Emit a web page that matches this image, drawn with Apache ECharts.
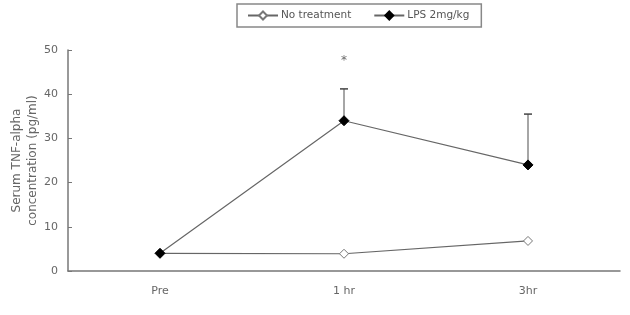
<!DOCTYPE html>
<html><head><meta charset="utf-8">
<script src="https://cdn.jsdelivr.net/npm/echarts@6/dist/echarts.min.js"></script>
<style>html,body{margin:0;padding:0;background:#fff}#c{width:630px;height:315px}</style>
</head><body><div id="c"></div>
<script>
var categories = ['Pre', '1 hr', '3hr'];
var noTreatment = [4, 3.9, 6.8];
var lps = [4, 34, 24];
var lpsErrTop = [null, 41.2, 35.5];
var starPos = [null, 47.5, null];
var yTicks = [0, 10, 20, 30, 40, 50];

var font = 'DejaVu Sans';
var chart = echarts.init(document.getElementById('c'));
chart.setOption({
  animation: false,
  backgroundColor: '#fff',
  grid: {left: 68, right: 10, top: 50, bottom: 44, containLabel: false, outerBoundsMode: 'none'},
  legend: {
    left: 237, top: 4, width: 245,
    padding: [6, 12, 6, 10],
    borderColor: '#888', borderWidth: 1.5,
    itemWidth: 30, itemHeight: 10, itemGap: 22,
    textStyle: {fontFamily: font, fontSize: 10.5, color: '#555', padding: [0, 0, 0, -2]},
    data: ['No treatment', 'LPS 2mg/kg']
  },
  xAxis: {
    type: 'category', data: categories, boundaryGap: true,
    axisLine: {lineStyle: {color: '#777', width: 1.5}},
    axisTick: {inside: true, length: 4, lineStyle: {color: '#777'}},
    axisLabel: {fontFamily: font, fontSize: 11, color: '#666', margin: 15}
  },
  yAxis: {
    type: 'value', min: 0, max: 50, interval: 10,
    name: 'Serum TNF-alpha\nconcentration (pg/ml)',
    nameLocation: 'middle', nameRotate: 90, nameGap: 27, nameMoveOverlap: false,
    nameTextStyle: {fontFamily: font, fontSize: 12, color: '#666', lineHeight: 16},
    splitLine: {show: false},
    axisLine: {show: true, lineStyle: {color: '#777', width: 1.5}},
    axisTick: {show: true, inside: true, length: 4, lineStyle: {color: '#777'}},
    axisLabel: {fontFamily: font, fontSize: 11, color: '#666', margin: 10,
      formatter: function (v) { return yTicks.indexOf(v) >= 0 ? String(v) : ''; }}
  },
  series: [
    {
      name: 'errbars', type: 'custom', z: 1,
      data: lpsErrTop.map(function (v, i) { return v == null ? null : [i, lps[i], v]; }).filter(function (d) { return d; }),
      renderItem: function (params, api) {
        var x = api.value(0);
        var lo = api.coord([x, api.value(1)]);
        var hi = api.coord([x, api.value(2)]);
        var w = 4;
        return {type: 'group', children: [
          {type: 'line', shape: {x1: lo[0], y1: lo[1], x2: hi[0], y2: hi[1]}, style: {stroke: '#888', lineWidth: 1.5}},
          {type: 'line', shape: {x1: hi[0] - w, y1: hi[1], x2: hi[0] + w, y2: hi[1]}, style: {stroke: '#444', lineWidth: 1.5}}
        ]};
      }
    },
    {
      name: 'No treatment', type: 'line', data: noTreatment, z: 3,
      symbol: 'diamond', symbolSize: 9,
      lineStyle: {color: '#666', width: 1.2},
      itemStyle: {color: '#fff', borderColor: '#777', borderWidth: 1}
    },
    {
      name: 'LPS 2mg/kg', type: 'line', data: lps, z: 4,
      symbol: 'diamond', symbolSize: 10,
      lineStyle: {color: '#666', width: 1.2},
      itemStyle: {color: '#000', borderColor: '#000', borderWidth: 1}
    },
    {
      name: 'star', type: 'scatter', data: starPos, symbolSize: 0,
      label: {show: true, position: 'inside', formatter: '*', fontFamily: font, fontSize: 12, color: '#444'}
    }
  ]
});
</script></body></html>
